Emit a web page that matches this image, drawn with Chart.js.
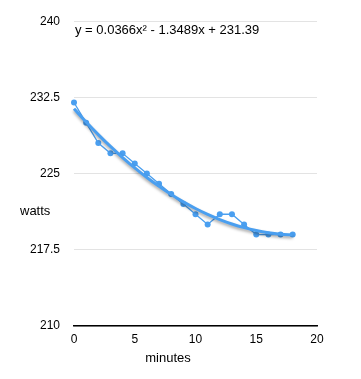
<!DOCTYPE html>
<html>
<head>
<meta charset="utf-8">
<script src="https://cdn.jsdelivr.net/npm/chart.js@4"></script>
<style>
  html, body { margin: 0; padding: 0; background: #fff; }
  #wrap { width: 361px; height: 379px; position: relative; }
</style>
</head>
<body>
<div id="wrap"><canvas id="chart" width="361" height="379"></canvas></div>
<script>
// data
const minutes = [0, 1, 2, 3, 4, 5, 6, 7, 8, 9, 10, 11, 12, 13, 14, 15, 16, 17, 18];
const watts = [232.0, 230.0, 228.0, 227.0, 227.0, 226.0, 225.0, 224.0, 223.0, 222.0, 221.0, 220.0, 221.0, 221.0, 220.0, 219.0, 219.0, 219.0, 219.0];
// trendline coefficients as printed on the chart (a, b, c)
const trendCoef = [0.0366, -1.3489, 231.39];
const trendLabel = "y = 0.0366x\u00B2 - 1.3489x + 231.39";
const xTicks = [0, 5, 10, 15, 20];
const yTicks = [210, 217.5, 225, 232.5, 240];

const blue = "#4a9ff0";
const font = "Liberation Sans, Arial, Helvetica, sans-serif";

const trendPoints = minutes.map(x => ({
  x,
  y: trendCoef[0] * x * x + trendCoef[1] * x + trendCoef[2]
}));

// shadow under the trendline
const shadowPlugin = {
  id: "shadow",
  beforeDatasetDraw(chart, args) {
    if (args.index !== 1) return;
    const c = chart.ctx;
    c.save();
    c.shadowColor = "rgba(0,0,0,0.35)";
    c.shadowBlur = 3;
    c.shadowOffsetY = 2;
  },
  afterDatasetDraw(chart, args) {
    if (args.index !== 1) return;
    chart.ctx.restore();
  }
};

// labels that sit outside normal chart.js places
const labelsPlugin = {
  id: "labels",
  afterDraw(chart) {
    const c = chart.ctx;
    const area = chart.chartArea;
    c.save();
    c.fillStyle = "#000";
    c.font = "13px " + font;
    c.textBaseline = "middle";
    c.textAlign = "left";
    c.fillText(trendLabel, area.left + 1, area.top + 9);
    c.fillText("watts", 20, 211);
    c.textAlign = "center";
    c.fillText("minutes", 168, 358);
    c.restore();
  }
};

new Chart(document.getElementById("chart"), {
  type: "scatter",
  data: {
    datasets: [
      {
        data: minutes.map((x, i) => ({ x, y: watts[i] })),
        showLine: true,
        borderColor: blue,
        backgroundColor: blue,
        borderWidth: 1.3,
        pointRadius: 3,
        pointBorderWidth: 0,
        clip: false,
        order: 2
      },
      {
        data: trendPoints,
        showLine: true,
        borderColor: blue,
        borderWidth: 3,
        pointRadius: 0,
        tension: 0.4,
        cubicInterpolationMode: "monotone",
        clip: false,
        order: 1
      }
    ]
  },
  options: {
    responsive: false,
    animation: false,
    layout: { padding: { top: 18, right: 44, bottom: 0, left: 0 } },
    plugins: {
      legend: { display: false },
      tooltip: { enabled: false }
    },
    scales: {
      x: {
        type: "linear",
        min: 0,
        max: 20,
        afterBuildTicks: s => { s.ticks = xTicks.map(v => ({ value: v })); },
        grid: { display: false, drawTicks: false },
        border: { display: true, color: "#000", width: 1.5 },
        ticks: { color: "#000", font: { family: font, size: 12 }, padding: 6, maxRotation: 0 },
        afterFit: s => { s.height = 53; }
      },
      y: {
        min: 210,
        max: 240,
        afterBuildTicks: s => { s.ticks = yTicks.map(v => ({ value: v })); },
        grid: { color: "#e3e3e3", drawTicks: false },
        border: { display: false },
        ticks: { color: "#000", font: { family: font, size: 12 }, padding: 14 },
        afterFit: s => { s.width = 74; }
      }
    }
  },
  plugins: [shadowPlugin, labelsPlugin]
});
</script>
</body>
</html>
